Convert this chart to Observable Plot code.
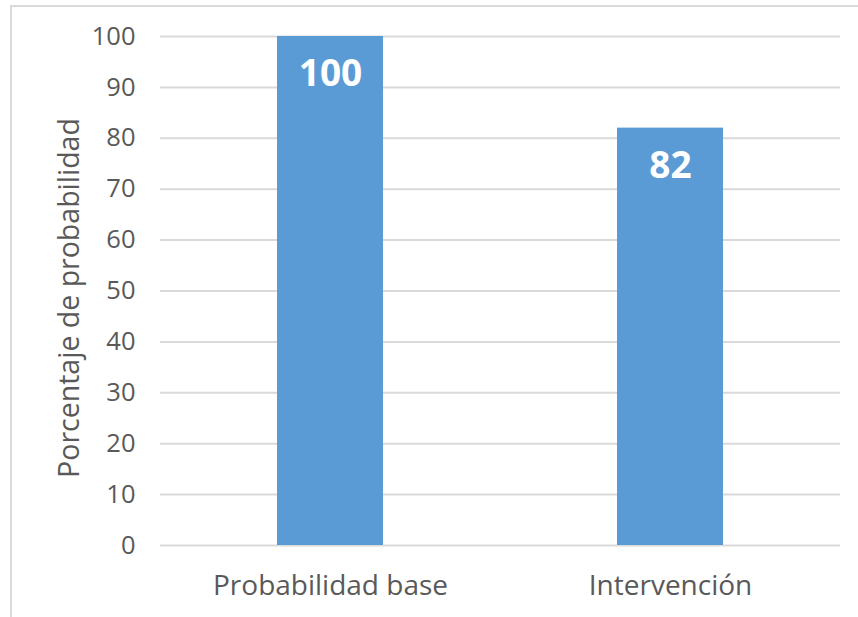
<!DOCTYPE html>
<html>
<head>
<meta charset="utf-8">
<script src="https://cdn.jsdelivr.net/npm/d3@7"></script>
<script src="https://cdn.jsdelivr.net/npm/@observablehq/plot@0.6"></script>
<style>
  html, body { margin: 0; padding: 0; background: #fff; overflow: hidden; }
  #wrap { position: relative; width: 858px; height: 617px; }
  #border {
    position: absolute; left: 10px; top: 5px; width: 900px; height: 700px;
    border-left: 2px solid #d9d9d9; border-top: 2px solid #d9d9d9;
    box-sizing: border-box; pointer-events: none;
  }
  #chart { position: absolute; left: 0; top: 0; }
  #chart svg { font-family: "Open Sans", sans-serif; }
</style>
</head>
<body>
<div id="wrap">
  <div id="border"></div>
  <div id="chart"></div>
</div>
<script>
// Categories and their probability percentages
const categories = ["Probabilidad base", "Intervención"];
const values = [100, 82];
const yTicks = [0, 10, 20, 30, 40, 50, 60, 70, 80, 90, 100];
const yTitle = "Porcentaje de probabilidad";

const data = categories.map((c, i) => ({category: c, value: values[i]}));

const gray = "#595959";
const barColor = "#5b9bd5";

const chart = Plot.plot({
  width: 858,
  height: 617,
  marginLeft: 160,
  marginRight: 18,
  marginTop: 36,
  marginBottom: 72,
  style: {fontFamily: "'Open Sans', sans-serif", background: "transparent"},
  x: {domain: categories, paddingInner: 0.688, paddingOuter: 0.344, label: null},
  y: {domain: [0, 100], label: null},
  marks: [
    Plot.gridY(yTicks, {stroke: "#d9d9d9", strokeOpacity: 1, strokeWidth: 2}),
    Plot.barY(data, {x: "category", y: "value", fill: barColor}),
    Plot.text(data, {
      x: "category", y: "value", text: d => String(d.value),
      fill: "#fff", fontSize: 37, fontWeight: "bold", dy: 38, lineAnchor: "middle"
    }),
    Plot.axisY(yTicks, {
      tickSize: 0, tickPadding: 25, fontSize: 25.5, fill: gray, label: null
    }),
    Plot.axisX({
      tickSize: 0, tickPadding: 30, fontSize: 28, fill: gray, label: null
    }),
    Plot.text([yTitle], {
      frameAnchor: "left", text: d => d, rotate: -90, dx: -91, dy: 7,
      fontSize: 28.5, fill: gray, textAnchor: "middle"
    })
  ]
});

document.getElementById("chart").appendChild(chart);
</script>
</body>
</html>
